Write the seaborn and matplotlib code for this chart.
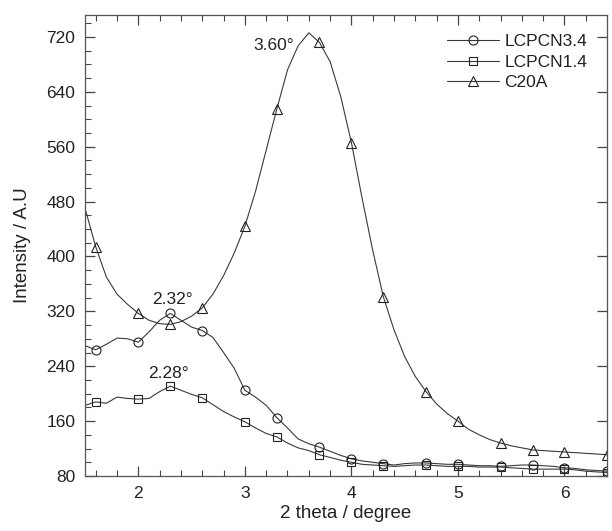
import numpy as np
import pandas as pd
import seaborn as sns
import matplotlib.pyplot as plt
from matplotlib.lines import Line2D
from matplotlib.ticker import MultipleLocator

# 2 theta grid of the traces (degree)
two_theta = [1.5, 1.6, 1.7, 1.8, 1.9, 2.0, 2.1, 2.2, 2.3, 2.4,
             2.5, 2.6, 2.7, 2.8, 2.9, 3.0, 3.1, 3.2, 3.3, 3.4,
             3.5, 3.6, 3.7, 3.8, 3.9, 4.0, 4.1, 4.2, 4.3, 4.4,
             4.5, 4.6, 4.7, 4.8, 4.9, 5.0, 5.1, 5.2, 5.3, 5.4,
             5.5, 5.6, 5.7, 5.8, 5.9, 6.0, 6.1, 6.2, 6.3, 6.4]

lcpcn34 = [270, 264, 272, 281, 280, 275, 290, 307, 317, 307,
           297, 292, 282, 260, 237, 205, 195, 183, 165, 150,
           134, 127, 122, 116, 110, 105, 102, 100, 98, 96,
           98, 99, 99, 98, 97, 97, 96, 95, 95, 94,
           95, 96, 96, 95, 94, 92, 91, 89, 88, 87]

lcpcn14 = [183, 188, 186, 195, 193, 192, 193, 203, 211, 205,
           199, 194, 184, 174, 166, 159, 150, 142, 137, 128,
           121, 117, 111, 107, 103, 100, 97, 96, 95, 94,
           95, 96, 96, 95, 94, 94, 94, 93, 93, 93,
           92, 91, 90, 90, 90, 90, 89, 87, 86, 85]

c20a = [470, 414, 370, 345, 330, 317, 307, 302, 301, 305,
        313, 325, 345, 372, 405, 444, 495, 555, 615, 672,
        707, 726, 712, 684, 633, 566, 485, 409, 341, 293,
        254, 225, 203, 185, 171, 160, 148, 140, 133, 128,
        124, 121, 118, 117, 116, 115, 114, 113, 112, 111]

# where the symbols sit on the traces
marker_theta = [1.6, 2.0, 2.3, 2.6, 3.0, 3.3, 3.7, 4.0, 4.3, 4.7,
                5.0, 5.4, 5.7, 6.0, 6.4]

series = [("LCPCN3.4", lcpcn34, "o", 6.5),
          ("LCPCN1.4", lcpcn14, "s", 6.3),
          ("C20A", c20a, "^", 7.0)]

sns.set_style("ticks")
plt.rcParams['font.family'] = ['Liberation Sans', 'DejaVu Sans']

fig = plt.figure(figsize=(6.12, 5.31), dpi=100)
ax = fig.add_axes([0.139, 0.1036, 0.853, 0.8682])

line_col = "#3a3a3a"
txt_col = "#222222"
handles = []
for name, vals, mk, ms in series:
    df = pd.DataFrame({"theta": two_theta, "intensity": vals})
    sns.lineplot(data=df, x="theta", y="intensity", ax=ax, color=line_col,
                 linewidth=0.8, estimator=None, sort=False)
    dm = df[np.isclose(df["theta"].values[:, None], marker_theta).any(axis=1)]
    ax.plot(dm["theta"], dm["intensity"], linestyle="none", marker=mk,
            markersize=ms, markerfacecolor="none", markeredgecolor="#222222",
            markeredgewidth=0.8)
    handles.append(Line2D([], [], color=line_col, linewidth=0.8, marker=mk,
                          markersize=ms, markerfacecolor="none",
                          markeredgecolor="#222222", markeredgewidth=0.8,
                          label=name))

ax.set_xlim(1.5, 6.4)
ax.set_ylim(80, 752)
ax.xaxis.set_major_locator(MultipleLocator(1))
ax.xaxis.set_minor_locator(MultipleLocator(0.2))
ax.yaxis.set_major_locator(MultipleLocator(80))
ax.yaxis.set_minor_locator(MultipleLocator(20))

ax.tick_params(which="both", direction="in", top=True, right=True,
               colors="#444444", labelcolor=txt_col, labelsize=12.5)
ax.tick_params(which="major", length=7, width=0.9, pad=7)
ax.tick_params(which="minor", length=4, width=0.8, right=False)
for s in ax.spines.values():
    s.set_color("#555555")
    s.set_linewidth(0.9)

ax.set_xlabel("2 theta / degree", fontsize=13.5, color=txt_col, labelpad=3)
ax.set_ylabel("Intensity / A.U", fontsize=13.5, color=txt_col, labelpad=11)

ax.text(3.27, 708, "3.60°", ha="center", va="center", fontsize=12.5, color=txt_col)
ax.text(2.32, 337, "2.32°", ha="center", va="center", fontsize=12.5, color=txt_col)
ax.text(2.28, 230, "2.28°", ha="center", va="center", fontsize=12.5, color=txt_col)

leg = ax.legend(handles=handles, loc="upper right", frameon=False,
                fontsize=12.5, handlelength=3.0, handletextpad=0.3,
                labelspacing=0.31, borderaxespad=0.0, bbox_to_anchor=(0.975, 0.974))
for t in leg.get_texts():
    t.set_color(txt_col)

fig.savefig("out.png", dpi=100)
